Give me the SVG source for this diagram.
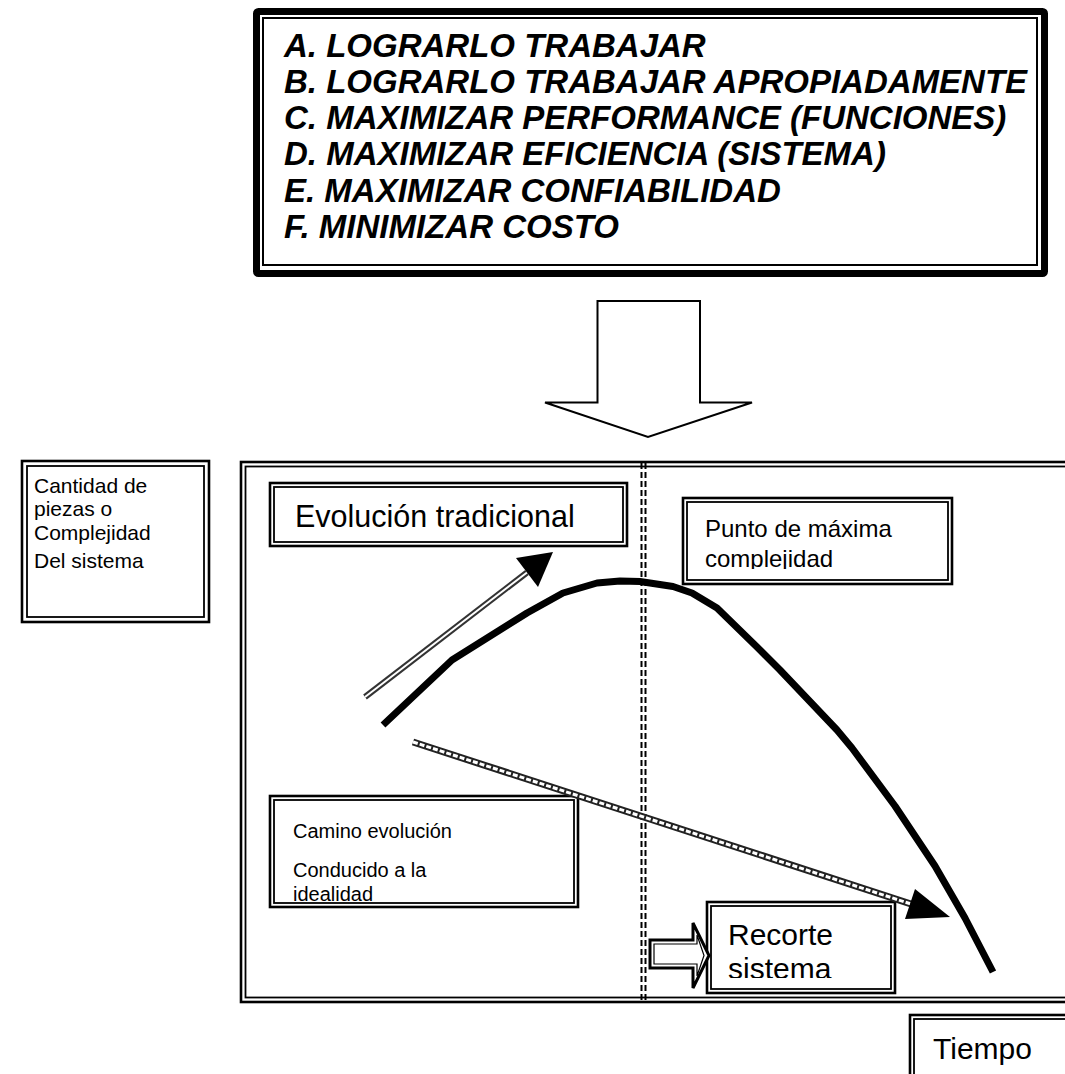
<svg xmlns="http://www.w3.org/2000/svg" width="1065" height="1074" viewBox="0 0 1065 1074">
  <style>
    .fo{fill:#fff;stroke:#000;stroke-width:2.6}
    .fi{fill:none;stroke:#000;stroke-width:1.8}
    .t{font-family:"Liberation Sans",Arial,Helvetica,sans-serif;fill:#000}
    .goal{font-weight:bold;font-style:italic;font-size:33px}
    .dash{stroke:#000;stroke-width:2;stroke-dasharray:6 3;fill:none}
    .curve{fill:none;stroke:#000;stroke-width:7;stroke-linejoin:round}
  </style>
  <defs>
    <clipPath id="clipPunto"><rect x="683" y="498" width="269" height="71"/></clipPath>
    <clipPath id="clipRecorte"><rect x="707" y="902" width="188" height="76"/></clipPath>
  </defs>

  <rect x="0" y="0" width="1065" height="1074" fill="#fff"/>

  <!-- goals list -->
  <g id="goals">
    <rect x="256.5" y="11.5" width="788" height="262" rx="2" fill="#fff" stroke="#000" stroke-width="7"/>
    <rect x="263" y="18" width="774" height="247" fill="none" stroke="#000" stroke-width="2"/>
    <g class="t goal">
      <text x="284" y="57">A. LOGRARLO TRABAJAR</text>
      <text x="284" y="93">B. LOGRARLO TRABAJAR APROPIADAMENTE</text>
      <text x="284" y="129">C. MAXIMIZAR PERFORMANCE (FUNCIONES)</text>
      <text x="284" y="165">D. MAXIMIZAR EFICIENCIA (SISTEMA)</text>
      <text x="284" y="202">E. MAXIMIZAR CONFIABILIDAD</text>
      <text x="284" y="238">F. MINIMIZAR COSTO</text>
    </g>
  </g>

  <!-- block arrow down -->
  <g id="down-arrow">
    <polygon points="597.5,301 700,301 700,402.5 752,402.5 648,437 545,402.5 597.5,402.5" fill="#fff" stroke="#000" stroke-width="2"/>
  </g>

  <!-- y-axis label -->
  <g id="axis-y">
    <rect class="fo" x="22" y="461" width="187" height="161"/>
    <rect class="fi" x="27" y="466" width="177" height="151"/>
    <g class="t" font-size="21">
      <text x="34" y="493">Cantidad de</text>
      <text x="34" y="516">piezas o</text>
      <text x="34" y="540">Complejidad</text>
      <text x="34" y="568">Del sistema</text>
    </g>
  </g>

  <!-- chart frame -->
  <g id="chart">
    <rect class="fo" x="241" y="462" width="900" height="540"/>
    <rect class="fi" x="245.5" y="466.5" width="900" height="531"/>
    <line class="dash" x1="641.5" y1="463" x2="641.5" y2="1000"/>
    <line class="dash" x1="645.5" y1="463" x2="645.5" y2="1000"/>
  </g>

  <g id="evolucion">
    <rect class="fo" x="270" y="483" width="357" height="63"/>
    <rect class="fi" x="274" y="487" width="349" height="55"/>
    <text class="t" x="295" y="527" font-size="30.5">Evolución tradicional</text>
  </g>

  <g id="punto">
    <rect class="fo" x="683" y="498" width="269" height="86"/>
    <rect class="fi" x="687" y="502" width="261" height="78"/>
    <g class="t" font-size="24" clip-path="url(#clipPunto)">
      <text x="705" y="537">Punto de máxima</text>
      <text x="705" y="567">complejidad</text>
    </g>
  </g>

  <g id="camino">
    <rect class="fo" x="270" y="796" width="308" height="111"/>
    <rect class="fi" x="274" y="800" width="300" height="103"/>
    <g class="t" font-size="20">
      <text x="293" y="838">Camino evolución</text>
      <text x="293" y="877">Conducido a la</text>
      <text x="293" y="901">idealidad</text>
    </g>
  </g>

  <g id="recorte">
    <rect class="fo" x="707" y="902" width="188" height="91"/>
    <rect class="fi" x="711" y="906" width="180" height="83"/>
    <g class="t" font-size="30" clip-path="url(#clipRecorte)">
      <text x="728" y="945">Recorte</text>
      <text x="728" y="979">sistema</text>
    </g>
  </g>

  <g id="tiempo">
    <rect class="fo" x="910" y="1015" width="200" height="100"/>
    <rect class="fi" x="914" y="1019" width="200" height="100"/>
    <text class="t" x="933" y="1059" font-size="30">Tiempo</text>
  </g>

  <!-- curves and arrows -->
  <g id="connectors">
    <polyline class="curve" points="383,725 452,660 527,613 563,593 597,583 620,581 640,581.5 673,586.5 692,593 717,608 757,647 780,670 837,730 852,748 895,806 935,866 965,918 993,972"/>

    <!-- traditional evolution arrow -->
    <line x1="365" y1="697" x2="527" y2="572.5" stroke="#333" stroke-width="6"/>
    <line x1="365" y1="697" x2="527" y2="572.5" stroke="#fff" stroke-width="2"/>
    <polygon points="553,552 516,558 538,587" fill="#000"/>

    <!-- ideal path arrow -->
    <line x1="413" y1="742" x2="911" y2="904" stroke="#222" stroke-width="7"/>
    <line x1="413" y1="742" x2="911" y2="904" stroke="#fff" stroke-width="3" stroke-dasharray="5 2"/>
    <polygon points="950,917 905,919 915,889" fill="#000"/>

    <!-- small block arrow -->
    <polygon points="650,940 693,940 693,923 709,955.5 693,988 693,968 650,968" fill="#fff" stroke="#000" stroke-width="3" stroke-linejoin="miter"/>
    <polygon points="654,944 697,944 697,935 704,955.5 697,976 697,964 654,964" fill="none" stroke="#000" stroke-width="1.2"/>
  </g>
</svg>
